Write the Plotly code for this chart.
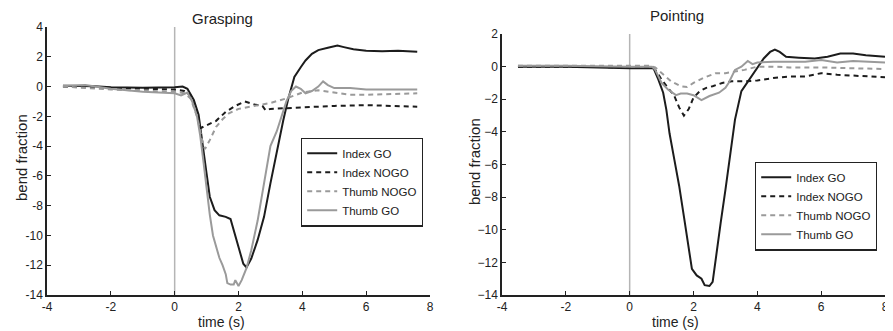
import plotly.graph_objects as go

# ---------------- data ----------------
# Grasping panel
g_idx_go_x = [-3.5, -2.5, -2.0, -1.0, 0.0, 0.25, 0.4, 0.6, 0.75, 0.85, 1.0, 1.1, 1.25, 1.4, 1.6, 1.75, 1.85, 2.0, 2.15, 2.25, 2.4, 2.6, 2.8, 3.0, 3.2, 3.4, 3.55, 3.75, 3.95, 4.1, 4.3, 4.5, 4.8, 5.1, 5.3, 5.6, 6.0, 6.5, 7.0, 7.6]
g_idx_go_y = [0.05, 0.02, -0.05, -0.08, -0.05, 0.0, -0.15, -0.9, -1.9, -3.6, -5.85, -7.4, -8.3, -8.65, -8.75, -8.9, -9.65, -10.8, -11.9, -12.15, -11.55, -10.3, -8.75, -6.5, -4.3, -2.3, -0.9, 0.65, 1.3, 1.75, 2.2, 2.45, 2.6, 2.75, 2.65, 2.5, 2.4, 2.37, 2.4, 2.33]

g_idx_nogo_x = [-3.5, -2.0, 0.0, 0.3, 0.5, 0.7, 0.8, 1.0, 1.3, 1.6, 1.9, 2.2, 2.5, 2.75, 2.85, 3.0, 3.5, 4.0, 5.0, 6.0, 7.0, 7.6]
g_idx_nogo_y = [0.0, -0.1, -0.2, -0.3, -0.6, -1.8, -2.8, -2.6, -2.3, -1.7, -1.3, -1.0, -1.2, -1.3, -1.6, -1.5, -1.45, -1.4, -1.3, -1.25, -1.3, -1.35]

g_thb_nogo_x = [-3.5, -2.0, 0.0, 0.3, 0.5, 0.7, 0.85, 0.95, 1.1, 1.3, 1.5, 1.7, 2.0, 2.5, 3.0, 3.5, 4.0, 4.5, 5.0, 5.5, 6.0, 7.0, 7.6]
g_thb_nogo_y = [0.0, -0.2, -0.35, -0.45, -0.8, -2.0, -3.5, -4.2, -3.6, -2.7, -2.2, -1.8, -1.5, -1.3, -1.1, -0.8, -0.4, -0.25, -0.4, -0.55, -0.55, -0.5, -0.45]

g_thb_go_x = [-3.5, -2.8, -2.0, -1.0, 0.0, 0.2, 0.4, 0.55, 0.7, 0.8, 0.9, 1.0, 1.1, 1.2, 1.3, 1.4, 1.5, 1.6, 1.65, 1.75, 1.85, 1.9, 2.0, 2.1, 2.25, 2.4, 2.6, 2.8, 3.0, 3.2, 3.35, 3.5, 3.65, 3.8, 3.95, 4.1, 4.3, 4.5, 4.65, 4.8, 5.0, 5.5, 6.0, 7.0, 7.6]
g_thb_go_y = [0.05, 0.1, -0.15, -0.35, -0.45, -0.6, -0.4, -1.0, -2.0, -3.3, -5.0, -7.0, -8.6, -10.0, -10.8, -11.5, -12.0, -12.6, -13.2, -13.3, -13.3, -13.0, -13.4, -13.0, -12.2, -11.0, -9.0, -6.5, -4.0, -3.0, -2.0, -1.0, -0.3, 0.0, -0.15, -0.45, -0.3, 0.0, 0.35, 0.1, -0.1, -0.1, -0.2, -0.2, -0.2]

# Pointing panel
p_idx_go_x = [-3.5, -2.0, 0.0, 0.5, 0.75, 0.9, 1.05, 1.15, 1.25, 1.4, 1.55, 1.7, 1.85, 1.95, 2.1, 2.25, 2.35, 2.5, 2.6, 2.7, 2.85, 3.0, 3.15, 3.3, 3.5, 3.75, 3.9, 4.05, 4.2, 4.4, 4.55, 4.7, 4.9, 5.3, 5.8, 6.2, 6.6, 7.0, 7.4, 8.0]
p_idx_go_y = [0.0, 0.0, -0.1, -0.1, -0.1, -0.8, -1.6, -2.65, -4.1, -5.7, -7.3, -9.2, -11.0, -12.4, -12.8, -13.0, -13.4, -13.45, -13.2, -11.65, -9.6, -7.55, -5.3, -3.25, -1.5, -0.8, -0.3, 0.1, 0.5, 0.9, 1.05, 0.9, 0.6, 0.55, 0.5, 0.6, 0.8, 0.8, 0.7, 0.6]

p_idx_nogo_x = [-3.5, -2.0, 0.0, 0.7, 0.85, 1.0, 1.2, 1.4, 1.55, 1.7, 1.85, 2.0, 2.2, 2.4, 2.6, 2.9, 3.2, 3.6, 4.0, 4.5, 5.0, 5.5, 6.0, 6.5, 7.0, 7.5, 8.0]
p_idx_nogo_y = [0.0, 0.0, -0.05, -0.05, -0.3, -0.8, -1.3, -1.8, -2.5, -3.0, -2.6, -1.9, -1.5, -1.3, -1.2, -1.0, -0.9, -0.9, -0.85, -0.7, -0.6, -0.6, -0.4, -0.5, -0.55, -0.6, -0.65]

p_thb_nogo_x = [-3.5, -2.0, 0.0, 0.6, 0.8, 1.0, 1.3, 1.6, 1.8, 2.0, 2.3, 2.7, 3.0, 3.3, 3.6, 4.0, 4.5, 5.0, 6.0, 7.0, 8.0]
p_thb_nogo_y = [0.05, 0.05, 0.05, 0.05, -0.05, -0.4, -0.9, -1.2, -1.25, -1.0, -0.7, -0.4, -0.4, -0.3, -0.2, 0.0, 0.0, -0.05, -0.05, -0.1, -0.15]

p_thb_go_x = [-3.5, -2.0, 0.0, 0.7, 0.8, 1.0, 1.2, 1.45, 1.6, 1.8, 2.0, 2.25, 2.5, 2.8, 3.0, 3.1, 3.3, 3.5, 3.7, 3.85, 4.0, 4.5, 5.0, 5.5, 6.0, 6.5, 7.0, 7.5, 8.0]
p_thb_go_y = [0.05, 0.05, 0.0, 0.0, -0.2, -1.0, -1.4, -1.75, -1.65, -1.65, -1.75, -2.05, -1.8, -1.6, -1.3, -1.0, -0.2, 0.0, 0.35, 0.15, 0.25, 0.3, 0.3, 0.3, 0.4, 0.25, 0.35, 0.3, 0.25]

series_names = ["Index GO", "Index NOGO", "Thumb NOGO", "Thumb GO"]

x_tickvals = [-4, -2, 0, 2, 4, 6, 8]
x_ticktext = ["-4", "-2", "0", "2", "4", "6", "8"]
g_y_tickvals = [4, 2, 0, -2, -4, -6, -8, -10, -12, -14]
g_y_ticktext = ["4", "2", "0", "-2", "-4", "-6", "-8", "-10", "-12", "-14"]
p_y_tickvals = [2, 0, -2, -4, -6, -8, -10, -12, -14]
p_y_ticktext = ["2", "0", "\u22122", "\u22124", "\u22126", "\u22128", "\u221210", "\u221212", "\u221214"]

# ---------------- styles ----------------
BLACK = "#1c1c1c"
GRAY = "#9a9a9a"
styles = [
    dict(color=BLACK, width=2, dash="solid"),
    dict(color=BLACK, width=2, dash="5px,4px"),
    dict(color=GRAY, width=2, dash="5px,4px"),
    dict(color=GRAY, width=2, dash="solid"),
]
FONT = "Liberation Sans, Arial, sans-serif"
PAGE_W, PAGE_H = 893, 331
OFF = 8  # default body margin of the html page
W, H = PAGE_W - OFF, PAGE_H - OFF

fig = go.Figure()

g_data = [(g_idx_go_x, g_idx_go_y), (g_idx_nogo_x, g_idx_nogo_y),
          (g_thb_nogo_x, g_thb_nogo_y), (g_thb_go_x, g_thb_go_y)]
p_data = [(p_idx_go_x, p_idx_go_y), (p_idx_nogo_x, p_idx_nogo_y),
          (p_thb_nogo_x, p_thb_nogo_y), (p_thb_go_x, p_thb_go_y)]

for (xs, ys), name, st in zip(g_data, series_names, styles):
    fig.add_trace(go.Scatter(x=xs, y=ys, name=name, mode="lines", line=st,
                             xaxis="x", yaxis="y", legend="legend"))
for (xs, ys), name, st in zip(p_data, series_names, styles):
    fig.add_trace(go.Scatter(x=xs, y=ys, name=name, mode="lines", line=st,
                             xaxis="x2", yaxis="y2", legend="legend2"))

def px_x(p):
    return (p - OFF) / W

def px_y(p):
    return (PAGE_H - p) / H

axis_common = dict(showline=True, linecolor="#222", linewidth=1.5, ticks="inside",
                   ticklen=4, tickwidth=1.2, tickcolor="#222", showgrid=False,
                   zeroline=False, mirror=False,
                   tickfont=dict(family=FONT, size=12, color="#222"))

leg_common = dict(xanchor="left", yanchor="middle", bgcolor="white",
                  bordercolor="#222", borderwidth=1.2,
                  font=dict(family=FONT, size=11.5, color="#222"),
                  tracegroupgap=0, itemwidth=30)

fig.update_layout(
    width=W, height=H,
    margin=dict(l=0, r=0, t=0, b=0, autoexpand=False),
    paper_bgcolor="white", plot_bgcolor="white",
    font=dict(family=FONT, size=12, color="#222"),
    xaxis=dict(domain=[px_x(47), px_x(430)], range=[-4, 8], anchor="y",
               tickmode="array", tickvals=x_tickvals, ticktext=x_ticktext, **axis_common),
    yaxis=dict(domain=[px_y(295), px_y(27)], range=[-14, 4], anchor="x",
               tickmode="array", tickvals=g_y_tickvals, ticktext=g_y_ticktext, **axis_common),
    xaxis2=dict(domain=[px_x(502), px_x(885)], range=[-4, 8], anchor="y2",
                tickmode="array", tickvals=x_tickvals, ticktext=x_ticktext, **axis_common),
    yaxis2=dict(domain=[px_y(295), px_y(34)], range=[-14, 2], anchor="x2",
                tickmode="array", tickvals=p_y_tickvals, ticktext=p_y_ticktext, **axis_common),
    legend=dict(x=px_x(301), y=px_y(182), **leg_common),
    legend2=dict(x=px_x(755), y=px_y(206), **leg_common),
    showlegend=True,
)

# vertical reference line at t = 0
for xr, yr in [("x", "y domain"), ("x2", "y2 domain")]:
    fig.add_shape(type="line", xref=xr, yref=yr, x0=0, x1=0, y0=0, y1=1,
                  line=dict(color="#b5b5b5", width=1.5), layer="below")

ann = [
    ("Grasping", 222, 19, 0, 15),
    ("Pointing", 677, 16, 0, 15),
    ("time (s)", 221, 322, 0, 14),
    ("time (s)", 675, 322, 0, 14),
    ("bend fraction", 21, 158, -90, 15),
    ("bend fraction", 475, 162, -90, 15),
]
for text, xp, yp, ang, fs in ann:
    fig.add_annotation(text=text, x=px_x(xp), y=px_y(yp), xref="paper", yref="paper",
                       xanchor="center", yanchor="middle", showarrow=False,
                       textangle=ang, font=dict(family=FONT, size=fs, color="#222"))

fig.write_html("out.html")
